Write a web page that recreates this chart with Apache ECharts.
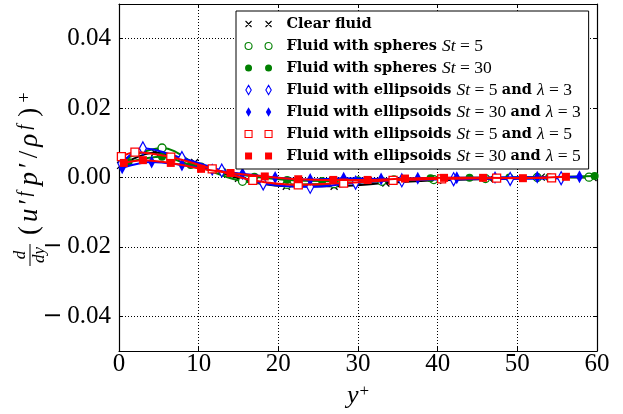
<!DOCTYPE html>
<html><head><meta charset="utf-8">
<script src="https://cdn.jsdelivr.net/npm/echarts@6/dist/echarts.min.js"></script>
<style>html,body{margin:0;padding:0;background:#fff}#chart{width:623px;height:414px}</style>
</head><body><div id="chart"></div>
<script>
// Wall-normal position y+ of each marker and the wall-normal derivative of the
// fluid-particle velocity/pressure correlation at that position.
const yPlusClear = [0.2, 4.5, 9.5, 15.0, 21.0, 27.0, 33.5, 40.0, 46.5, 53.0, 59.5];
const valClear   = [0.0035, 0.0072, 0.0043, -0.0002, -0.0025, -0.0025, -0.0016, -0.0008, -0.0004, 0.0001, 0.0000];

const yPlusSph5 = [0.4, 5.4, 10.3, 15.5, 21.1, 27.0, 33.0, 39.5, 46.0, 52.5, 59.0];
const valSph5   = [0.0050, 0.0085, 0.0030, -0.0011, -0.0020, -0.0018, -0.0011, -0.0006, -0.0003, 0.0000, 0.0001];

const yPlusSph30 = [1.2, 5.4, 9.0, 13.0, 17.0, 21.1, 25.5, 30.0, 34.5, 39.1, 44.0, 49.0, 54.0, 59.7];
const valSph30   = [0.0045, 0.0060, 0.0036, 0.0017, 0.0002, -0.0007, -0.0010, -0.0008, -0.0005, -0.0002, -0.0001, 0.0000, 0.0001, 0.0004];

const yPlusEll5L3 = [0.3, 3.0, 7.9, 12.9, 18.1, 24.0, 29.7, 35.5, 42.0, 49.1, 55.5];
const valEll5L3   = [0.0040, 0.0084, 0.0056, 0.0020, -0.0017, -0.0027, -0.0015, -0.0008, -0.0005, -0.0004, -0.0002];

const yPlusEll30L3 = [0.4, 4.1, 7.9, 11.7, 15.5, 19.6, 24.0, 28.2, 32.9, 37.5, 42.4, 47.2, 52.5, 57.8];
const valEll30L3   = [0.0028, 0.0045, 0.0036, 0.0022, 0.0011, 0.0000, -0.0006, -0.0002, -0.0004, -0.0002, -0.0001, 0.0000, 0.0001, 0.0002];

const yPlusEll5L5 = [0.3, 2.0, 6.5, 11.7, 16.8, 22.5, 28.2, 34.4, 40.5, 47.4, 54.3];
const valEll5L5   = [0.0060, 0.0073, 0.0059, 0.0025, -0.0008, -0.0021, -0.0016, -0.0008, -0.0004, -0.0002, -0.0001];

const yPlusEll30L5 = [0.6, 3.0, 6.5, 10.3, 14.0, 18.3, 22.5, 26.9, 31.2, 35.9, 40.8, 45.7, 50.7, 56.1];
const valEll30L5   = [0.0042, 0.0050, 0.0042, 0.0025, 0.0013, 0.0003, -0.0005, -0.0007, -0.0007, -0.0003, -0.0001, -0.0001, -0.0002, 0.0002];

const seriesNames = [
  'Clear fluid',
  'Fluid with spheres St = 5',
  'Fluid with spheres St = 30',
  'Fluid with ellipsoids St = 5 and λ = 3',
  'Fluid with ellipsoids St = 30 and λ = 3',
  'Fluid with ellipsoids St = 5 and λ = 5',
  'Fluid with ellipsoids St = 30 and λ = 5'
];
// Legend text with bold words and italic symbols
const legendRich = [
  '{b|Clear fluid}',
  '{b|Fluid with spheres }{i|St}{r| = 5}',
  '{b|Fluid with spheres }{i|St}{r| = 30}',
  '{b|Fluid with ellipsoids }{i|St}{r| = 5 }{b|and }{i|λ}{r| = 3}',
  '{b|Fluid with ellipsoids }{i|St}{r| = 30 }{b|and }{i|λ}{r| = 3}',
  '{b|Fluid with ellipsoids }{i|St}{r| = 5 }{b|and }{i|λ}{r| = 5}',
  '{b|Fluid with ellipsoids }{i|St}{r| = 30 }{b|and }{i|λ}{r| = 5}'
];

const yTicks = [-0.04, -0.02, 0.00, 0.02, 0.04];
const xTickStep = 10;

const GREEN = '#008000', BLUE = '#0000ff', RED = '#ff0000', BLACK = '#000000';
const SERIF = "'Liberation Serif', 'DejaVu Serif', serif";
const BOLD_SERIF = "'DejaVu Serif', 'Liberation Serif', serif";

const zip = (xs, ys) => xs.map((x, i) => [x, ys[i]]);

// Marker shapes: plot symbol, symbol size, filled?, colour
const styles = [
  { sym: 'path://M0,0L10,10M10,0L0,10', size: 7, fill: false, color: BLACK, cross: true },
  { sym: 'circle', size: 8, fill: false, color: GREEN },
  { sym: 'circle', size: 8, fill: true, color: GREEN },
  { sym: 'diamond', size: [7, 13], fill: false, color: BLUE },
  { sym: 'diamond', size: [7, 13], fill: true, color: BLUE },
  { sym: 'rect', size: 8, fill: false, color: RED },
  { sym: 'rect', size: 8, fill: true, color: RED }
];
const dataSets = [
  zip(yPlusClear, valClear), zip(yPlusSph5, valSph5), zip(yPlusSph30, valSph30),
  zip(yPlusEll5L3, valEll5L3), zip(yPlusEll30L3, valEll30L3),
  zip(yPlusEll5L5, valEll5L5), zip(yPlusEll30L5, valEll30L5)
];

// Two-marker legend icons (37x10 box, markers centred at x=4 and x=24)
const BOX = 'M0,0M37,10';
const CIRC = 'M0.5,5a3.5,3.5 0 1,0 7,0a3.5,3.5 0 1,0 -7,0M20.5,5a3.5,3.5 0 1,0 7,0a3.5,3.5 0 1,0 -7,0';
const DIAM = 'M4,0.3L6.7,5L4,9.7L1.3,5ZM24,0.3L26.7,5L24,9.7L21.3,5Z';
const SQR = 'M0.5,1.5h7v7h-7ZM20.5,1.5h7v7h-7Z';
const legendIcons = [
  'path://' + BOX + 'M1,2L7,8M7,2L1,8M21,2L27,8M27,2L21,8',
  'path://' + BOX + CIRC, 'path://' + BOX + CIRC,
  'path://' + BOX + DIAM, 'path://' + BOX + DIAM,
  'path://' + BOX + SQR, 'path://' + BOX + SQR
];

const series = dataSets.map((d, i) => {
  const s = styles[i];
  return {
    name: seriesNames[i],
    type: 'line',
    data: d,
    smooth: 0.35,
    symbol: s.sym,
    symbolSize: s.size,
    showAllSymbol: true,
    lineStyle: { color: s.color, width: 2 },
    itemStyle: {
      color: s.cross ? 'rgba(0,0,0,0)' : (s.fill ? s.color : '#ffffff'),
      borderColor: s.color,
      borderWidth: s.cross ? 1.3 : (s.fill ? 0 : 1.3)
    },
    emphasis: { disabled: true },
    z: 2 + i
  };
});

const gridLine = { show: true, lineStyle: { color: '#000', type: [1, 2], width: 1 } };
// Tick text: a long minus sign followed by the magnitude
const fmtY = v => (v < 0 ? '{m|\u2212}' : '') + '{n|' + Math.abs(v).toFixed(2) + '}';

const chart = echarts.init(document.getElementById('chart'), null, { renderer: 'canvas' });
chart.setOption({
  animation: false,
  backgroundColor: '#fff',
  grid: { left: 119, right: 26, top: 4, bottom: 53, containLabel: false },
  xAxis: [{
    type: 'value', min: 0, max: 60, interval: xTickStep,
    axisLine: { show: true, onZero: false, lineStyle: { color: '#000', width: 1.2 } },
    axisTick: { show: true, inside: true, length: 4, lineStyle: { color: '#000' } },
    axisLabel: { color: '#000', fontFamily: SERIF, fontSize: 25, margin: 1 },
    splitLine: gridLine,
    name: '{i|y}{s|+}', nameLocation: 'middle', nameGap: 32,
    nameTextStyle: {
      rich: {
        i: { fontFamily: SERIF, fontStyle: 'italic', fontSize: 26, color: '#000' },
        s: { fontFamily: SERIF, fontSize: 17, color: '#000', verticalAlign: 'top', padding: [0, 0, 9, 1] }
      }
    }
  }, {
    type: 'value', min: 0, max: 60, interval: xTickStep, position: 'top',
    axisLine: { show: true, onZero: false, lineStyle: { color: '#000', width: 1.2 } },
    axisTick: { show: true, inside: true, length: 4, lineStyle: { color: '#000' } },
    axisLabel: { show: false }, splitLine: { show: false }
  }],
  yAxis: [{
    type: 'value', min: -0.05, max: 0.05,
    axisLine: { show: true, onZero: false, lineStyle: { color: '#000', width: 1.2 } },
    axisTick: { show: true, inside: true, length: 4, customValues: yTicks, lineStyle: { color: '#000' } },
    axisLabel: {
      color: '#000', margin: 8, customValues: yTicks, formatter: fmtY,
      rich: {
        m: { fontFamily: "'DejaVu Serif', serif", fontSize: 24, color: '#000', padding: [0, 5, 0, 0] },
        n: { fontFamily: SERIF, fontSize: 25, color: '#000' }
      }
    },
    splitLine: gridLine
  }, {
    type: 'value', min: -0.05, max: 0.05, position: 'right',
    axisLine: { show: true, onZero: false, lineStyle: { color: '#000', width: 1.2 } },
    axisTick: { show: true, inside: true, length: 4, customValues: yTicks, lineStyle: { color: '#000' } },
    axisLabel: { show: false }, splitLine: { show: false }
  }],
  legend: {
    orient: 'vertical', left: 236, top: 11,
    padding: [4, 8, 4, 8], itemGap: 4, itemWidth: 37, itemHeight: 10,
    backgroundColor: '#fff', borderColor: '#000', borderWidth: 1, borderRadius: 0,
    selectedMode: false, z: 20,
    formatter: name => legendRich[seriesNames.indexOf(name)],
    textStyle: {
      color: '#000', lineHeight: 18,
      rich: {
        b: { fontFamily: BOLD_SERIF, fontWeight: 'bold', fontSize: 14.5, color: '#000' },
        i: { fontFamily: SERIF, fontStyle: 'italic', fontSize: 17.5, color: '#000' },
        r: { fontFamily: SERIF, fontSize: 17.5, color: '#000' }
      }
    },
    data: seriesNames.map((n, i) => {
      const s = styles[i];
      return {
        name: n, icon: legendIcons[i],
        itemStyle: {
          color: s.cross ? 'rgba(0,0,0,0)' : (s.fill ? s.color : '#ffffff'),
          borderColor: s.color, borderWidth: s.fill ? 0 : 1.1
        }
      };
    })
  },
  graphic: [{
    type: 'group', x: 30, y: 238, rotation: Math.PI / 2,
    children: [
      { type: 'text', x: -17, y: -1, style: { text: 'd', font: "italic 17px 'Liberation Serif'", fill: '#000', align: 'center', verticalAlign: 'bottom' } },
      { type: 'line', shape: { x1: -28, y1: 0, x2: -6, y2: 0 }, style: { stroke: '#000', lineWidth: 1 } },
      { type: 'text', x: -17, y: 1, style: { text: 'dy', font: "italic 17px 'Liberation Serif'", fill: '#000', align: 'center', verticalAlign: 'top' } },
      { type: 'text', x: 0, y: 0, style: {
          text: '{p|(}{m|u}{q|\u2032}{s|f}{m|p}{q|\u2032}{p|/}{m|\u03c1}{s|f}{p|)}{s|+}',
          align: 'left', verticalAlign: 'middle',
          rich: {
            p: { fontFamily: SERIF, fontSize: 27, fill: '#000', padding: [0, 3, 0, 3] },
            q: { fontFamily: SERIF, fontSize: 27, fill: '#000', padding: [0, 1, 0, 1] },
            m: { fontFamily: SERIF, fontStyle: 'italic', fontSize: 27, fill: '#000', padding: [0, 3, 0, 1] },
            s: { fontFamily: SERIF, fontStyle: 'italic', fontSize: 18, fill: '#000', verticalAlign: 'top', padding: [0, 5, 0, 1] }
          }
      } }
    ]
  }],
  series: series
});
</script>
</body></html>
